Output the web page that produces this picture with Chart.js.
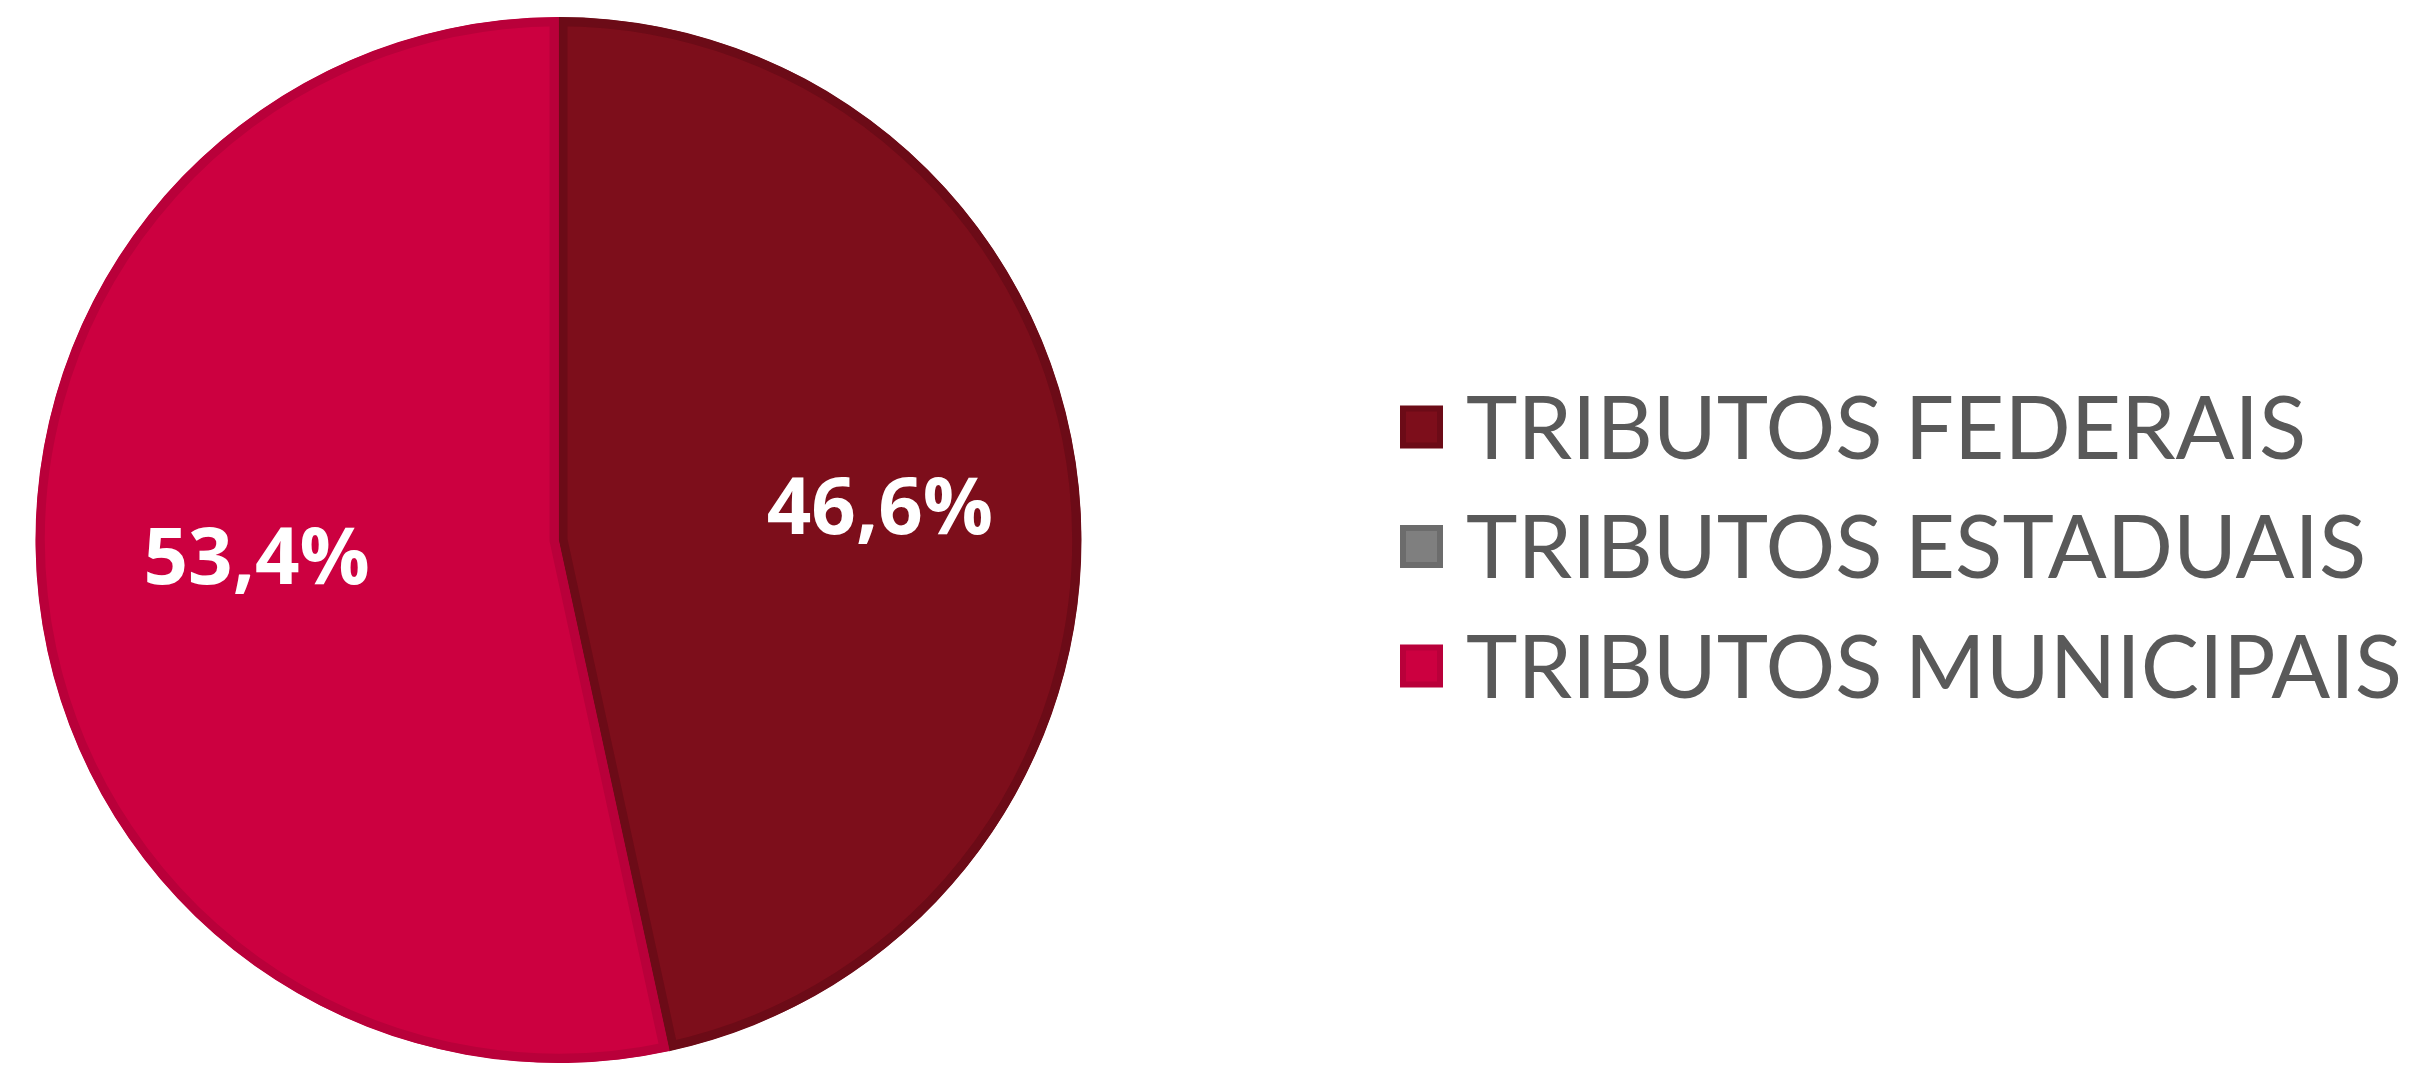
<!DOCTYPE html>
<html>
<head>
<meta charset="utf-8">
<script src="https://cdn.jsdelivr.net/npm/chart.js@4.4.1/dist/chart.umd.min.js"></script>
<style>
  html, body { margin: 0; padding: 0; background: #ffffff; overflow: hidden; }
  #wrap { width: 2417px; height: 1065px; position: relative; }
</style>
</head>
<body>
<div id="wrap"><canvas id="c" width="2417" height="1065"></canvas></div>
<script>
// ---- data ----
const categories = ['TRIBUTOS FEDERAIS', 'TRIBUTOS ESTADUAIS', 'TRIBUTOS MUNICIPAIS'];
const shares = [46.6, 0, 53.4];
const fillColors = ['#7D0E1B', '#7F7F7F', '#CC0040'];
const edgeColors = ['#6C0B17', '#6C6C6C', '#B9003A'];

function pctLabel(v) { return v.toFixed(1).replace('.', ',') + '%'; }

// slice value labels
const sliceLabels = {
  id: 'sliceLabels',
  afterDatasetsDraw(chart, args, o) {
    const ctx = chart.ctx;
    const meta = chart.getDatasetMeta(0);
    ctx.save();
    ctx.font = o.font;
    ctx.fillStyle = o.color;
    ctx.textAlign = 'center';
    ctx.textBaseline = 'alphabetic';
    const asc = ctx.measureText('4').actualBoundingBoxAscent;
    meta.data.forEach((arc, i) => {
      if (!shares[i]) return;
      const p = arc.getProps(['x', 'y', 'startAngle', 'endAngle', 'outerRadius'], true);
      const mid = (p.startAngle + p.endAngle) / 2 + o.turn[i] * Math.PI / 180;
      const r = p.outerRadius * o.radial[i];
      ctx.fillText(pctLabel(shares[i]), p.x + Math.cos(mid) * r, p.y + Math.sin(mid) * r + asc / 2);
    });
    ctx.restore();
  }
};

// side legend
const sideLegend = {
  id: 'sideLegend',
  afterDraw(chart, args, o) {
    const ctx = chart.ctx;
    ctx.save();
    let size = o.fontSize;
    ctx.font = `${o.fontWeight} ${size}px ${o.fontFamily}`;
    const maxW = Math.max(...categories.map(t => ctx.measureText(t).width));
    size = size * o.textWidth / maxW;
    ctx.font = `${o.fontWeight} ${size}px ${o.fontFamily}`;
    const capH = ctx.measureText('T').actualBoundingBoxAscent;
    ctx.textAlign = 'left';
    ctx.textBaseline = 'alphabetic';
    categories.forEach((t, i) => {
      const cy = o.top + i * o.step;
      const bx = o.x, by = cy - o.box / 2;
      ctx.fillStyle = edgeColors[i];
      ctx.fillRect(bx, by, o.box, o.box);
      ctx.fillStyle = fillColors[i];
      ctx.fillRect(bx + o.inset, by + o.inset, o.box - 2 * o.inset, o.box - 2 * o.inset);
      ctx.fillStyle = o.color;
      ctx.fillText(t, o.textX, cy + capH / 2);
    });
    ctx.restore();
  }
};

new Chart(document.getElementById('c'), {
  type: 'pie',
  data: {
    labels: categories,
    datasets: [{
      data: shares,
      backgroundColor: fillColors,
      borderColor: edgeColors,
      borderWidth: 9,
      hoverBorderWidth: 9,
      borderAlign: 'inner'
    }]
  },
  options: {
    responsive: false,
    animation: false,
    events: [],
    layout: { padding: { left: 35, top: 17, right: 1335, bottom: 2 } },
    plugins: {
      legend: { display: false },
      tooltip: { enabled: false },
      sliceLabels: { font: 'bold 78px "Open Sans", sans-serif', color: '#ffffff', radial: [0.618, 0, 0.578], turn: [0, 0, 3.2] },
      sideLegend: {
        x: 1400, box: 43, inset: 6, textX: 1466, top: 427, step: 119.5,
        fontSize: 84, fontWeight: 400, fontFamily: 'Lato, "Open Sans", sans-serif',
        textWidth: 936, color: '#595959'
      }
    }
  },
  plugins: [sliceLabels, sideLegend]
});
</script>
</body>
</html>
